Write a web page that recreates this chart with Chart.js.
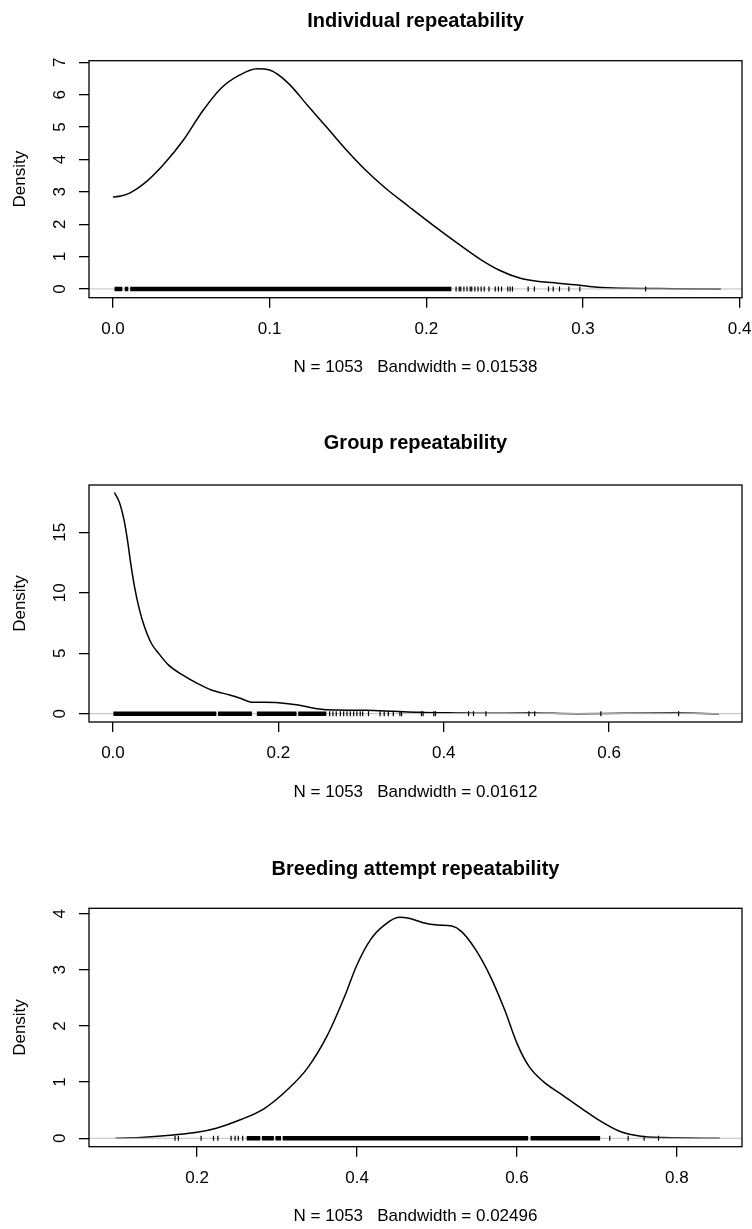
<!DOCTYPE html>
<html>
<head>
<meta charset="utf-8">
<script src="https://cdn.jsdelivr.net/npm/chart.js@4.4.1/dist/chart.umd.min.js"></script>
<style>
  html, body { margin: 0; padding: 0; background: #fff; }
  body { width: 752px; height: 1229px; position: relative; overflow: hidden; }
  .panel { position: absolute; left: 0; width: 752px; }
  canvas { display: block; }
</style>
</head>
<body>
<div class="panel"><canvas id="c1"></canvas></div>
<div class="panel"><canvas id="c2"></canvas></div>
<div class="panel"><canvas id="c3"></canvas></div>
<script>
// density curves
const indivX = [0.000, 0.005, 0.011, 0.020, 0.032, 0.045, 0.057, 0.069, 0.081, 0.092, 0.100, 0.112, 0.124, 0.137, 0.149, 0.161, 0.174, 0.189, 0.204, 0.220, 0.235, 0.247, 0.260, 0.272, 0.284, 0.297, 0.309, 0.327, 0.358, 0.388];
const indivY = [2.84, 2.87, 2.97, 3.26, 3.83, 4.60, 5.48, 6.20, 6.61, 6.80, 6.76, 6.35, 5.68, 4.96, 4.29, 3.68, 3.11, 2.54, 1.98, 1.41, 0.90, 0.57, 0.33, 0.23, 0.18, 0.12, 0.05, 0.02, 0.01, 0.0];

const groupX = [0.0017, 0.0076, 0.0134, 0.0174, 0.0215, 0.026, 0.032, 0.038, 0.0465, 0.055, 0.067, 0.084, 0.102, 0.119, 0.142, 0.154, 0.169, 0.183, 0.200, 0.224, 0.247, 0.270, 0.305, 0.340, 0.369, 0.416, 0.445, 0.503, 0.561, 0.619, 0.677, 0.733];
const groupY = [18.28, 17.5, 16.0, 14.4, 12.4, 10.5, 8.6, 7.2, 5.8, 5.0, 4.03, 3.2, 2.5, 1.96, 1.52, 1.27, 0.94, 0.94, 0.91, 0.72, 0.41, 0.30, 0.28, 0.19, 0.11, 0.055, 0.03, 0.05, 0.0, 0.03, 0.05, 0.0];

const breedX = [0.098, 0.134, 0.170, 0.200, 0.224, 0.254, 0.284, 0.3155, 0.338, 0.362, 0.386, 0.399, 0.4165, 0.4345, 0.4526, 0.4646, 0.4826, 0.5006, 0.5187, 0.5307, 0.5487, 0.5668, 0.5848, 0.600, 0.615, 0.633, 0.657, 0.681, 0.705, 0.729, 0.753, 0.783, 0.8536];
const breedY = [0.0, 0.02, 0.06, 0.107, 0.18, 0.33, 0.53, 0.90, 1.25, 1.81, 2.58, 3.06, 3.53, 3.80, 3.935, 3.92, 3.84, 3.80, 3.78, 3.68, 3.35, 2.88, 2.28, 1.69, 1.28, 1.01, 0.77, 0.53, 0.30, 0.12, 0.04, 0.012, 0.0];

// rug: dense stretches as [from, to], sparse ticks one by one
const indivRugBands = [[0.001, 0.006], [0.0075, 0.0098], [0.011, 0.216]];
const indivRug = [0.219, 0.221, 0.222, 0.224, 0.226, 0.228, 0.229, 0.231, 0.233, 0.235, 0.237, 0.240, 0.244, 0.246, 0.248, 0.252, 0.2535, 0.255, 0.265, 0.269, 0.278, 0.281, 0.285, 0.291, 0.298, 0.340];

const groupRugBands = [[0.0005, 0.125], [0.127, 0.168], [0.174, 0.222], [0.224, 0.258]];
const groupRug = [0.262, 0.266, 0.270, 0.275, 0.279, 0.283, 0.287, 0.291, 0.295, 0.299, 0.302, 0.309, 0.323, 0.328, 0.333, 0.339, 0.347, 0.349, 0.373, 0.375, 0.388, 0.390, 0.430, 0.436, 0.451, 0.503, 0.510, 0.590, 0.684];

const breedRugBands = [[0.262, 0.279], [0.281, 0.296], [0.298, 0.305], [0.307, 0.614], [0.617, 0.704]];
const breedRug = [0.1724, 0.1766, 0.205, 0.2205, 0.226, 0.2425, 0.2475, 0.2515, 0.257, 0.716, 0.739, 0.759, 0.777];

// ticks and labels
const indivXTicks = [0.0, 0.1, 0.2, 0.3, 0.4];
const indivYTicks = [0, 1, 2, 3, 4, 5, 6, 7];
const groupXTicks = [0.0, 0.2, 0.4, 0.6];
const groupYTicks = [0, 5, 10, 15];
const breedXTicks = [0.2, 0.4, 0.6, 0.8];
const breedYTicks = [0, 1, 2, 3, 4];

const titles = ['Individual repeatability', 'Group repeatability', 'Breeding attempt repeatability'];
const subtitles = ['N = 1053   Bandwidth = 0.01538', 'N = 1053   Bandwidth = 0.01612', 'N = 1053   Bandwidth = 0.02496'];

Chart.defaults.font.family = '"Liberation Sans", Arial, Helvetica, sans-serif';
Chart.defaults.color = '#000';

const panels = [
  { id: 'c1', top: 0, height: 400, boxTop: 60.7, boxBottom: 297.7, titleMid: 21, subMid: 367, yPad: 13.8,
    title: titles[0], sub: subtitles[0], xs: indivX, ys: indivY, bands: indivRugBands, rug: indivRug,
    xTicks: indivXTicks, yTicks: indivYTicks, xMin: -0.0153, xMax: 0.4015, yMin: -0.27, yMax: 7.05 },
  { id: 'c2', top: 409, height: 400, boxTop: 485, boxBottom: 722, titleMid: 443, subMid: 792, yPad: 9,
    title: titles[1], sub: subtitles[1], xs: groupX, ys: groupY, bands: groupRugBands, rug: groupRug,
    xTicks: groupXTicks, yTicks: groupYTicks, xMin: -0.029, xMax: 0.7607, yMin: -0.69, yMax: 18.9 },
  { id: 'c3', top: 819, height: 410, boxTop: 908.3, boxBottom: 1146.7, titleMid: 869, subMid: 1216.5, yPad: 13.8,
    title: titles[2], sub: subtitles[2], xs: breedX, ys: breedY, bands: breedRugBands, rug: breedRug,
    xTicks: breedXTicks, yTicks: breedYTicks, xMin: 0.0648, xMax: 0.8814, yMin: -0.15, yMax: 4.096 }
];

// R draws a full box round the plot region
const boxPlugin = {
  id: 'box',
  afterDraw(chart) {
    const { ctx, chartArea: a } = chart;
    ctx.save();
    ctx.strokeStyle = '#000';
    ctx.lineWidth = 1.3;
    ctx.strokeRect(a.left, a.top, a.right - a.left, a.bottom - a.top);
    ctx.restore();
  }
};

function makeChart(p) {
  const canvas = document.getElementById(p.id);
  canvas.width = 752;
  canvas.height = p.height;
  canvas.parentNode.style.top = p.top + 'px';

  const areaTop = p.boxTop - p.top;
  const areaBottom = p.boxBottom - p.top;
  const titleLine = 20 * 1.2;
  const subLine = 17 * 1.2;
  const titlePadTop = p.titleMid - p.top - titleLine / 2;
  const titlePadBottom = areaTop - titlePadTop - titleLine;
  const subPadBottom = p.height - (p.subMid - p.top) - subLine / 2;

  const bandData = [];
  p.bands.forEach(b => {
    bandData.push({ x: b[0], y: 0 }, { x: b[1], y: 0 }, { x: b[1], y: null });
  });

  const tickGrid = { drawOnChartArea: false, drawTicks: true, tickLength: 10, color: '#000', lineWidth: 1.3 };

  return new Chart(canvas, {
    type: 'scatter',
    data: {
      datasets: [
        {
          data: p.xs.map((x, i) => ({ x: x, y: p.ys[i] })),
          showLine: true, borderColor: '#000', borderWidth: 1.5, pointRadius: 0,
          cubicInterpolationMode: 'monotone', order: 3
        },
        {
          // zero line, drawn over the curve like R does
          data: [{ x: p.xMin, y: 0 }, { x: p.xMax, y: 0 }],
          showLine: true, borderColor: '#bebebe', borderWidth: 1, pointRadius: 0, order: 2
        },
        {
          data: bandData,
          showLine: true, spanGaps: false, borderColor: '#000', borderWidth: 4.5,
          borderCapStyle: 'butt', pointRadius: 0, order: 1
        },
        {
          data: p.rug.map(x => ({ x: x, y: 0 })),
          showLine: false, pointStyle: 'line', pointRotation: 90, pointRadius: 2.5,
          pointBorderColor: '#000', pointBorderWidth: 1.2, order: 0
        }
      ]
    },
    options: {
      responsive: false,
      animation: false,
      devicePixelRatio: 1,
      events: [],
      layout: { padding: { left: 0, right: 10, top: 0, bottom: 0 } },
      plugins: {
        legend: { display: false },
        tooltip: { enabled: false },
        title: {
          display: true, text: p.title, fullSize: false, color: '#000',
          font: { size: 20, weight: 'bold', lineHeight: 1.2 },
          padding: { top: titlePadTop, bottom: titlePadBottom }
        }
      },
      scales: {
        x: {
          type: 'linear', position: 'bottom', min: p.xMin, max: p.xMax,
          afterBuildTicks: s => { s.ticks = p.xTicks.map(v => ({ value: v })); },
          afterFit: s => { s.height = p.height - areaBottom; s.paddingLeft = 0; s.paddingRight = 0; },
          grid: tickGrid,
          border: { display: false },
          ticks: {
            autoSkip: false, maxRotation: 0, padding: 11, color: '#000',
            font: { size: 17 }, callback: v => Number(v).toFixed(1)
          },
          title: {
            display: true, text: p.sub, color: '#000', font: { size: 17, lineHeight: 1.2 },
            padding: { top: 0, bottom: subPadBottom }
          }
        },
        y: {
          type: 'linear', position: 'left', min: p.yMin, max: p.yMax,
          afterBuildTicks: s => { s.ticks = p.yTicks.map(v => ({ value: v })); },
          afterFit: s => { s.width = 89; s.paddingTop = 0; s.paddingBottom = 0; },
          grid: tickGrid,
          border: { display: false },
          ticks: {
            autoSkip: false, minRotation: 90, maxRotation: 90, crossAlign: 'center',
            padding: p.yPad, color: '#000', font: { size: 17 },
            callback: v => String(v)
          },
          title: {
            display: true, text: 'Density', color: '#000', font: { size: 17, lineHeight: 1.2 },
            padding: { top: 10.3, bottom: 0 }
          }
        }
      }
    },
    plugins: [boxPlugin]
  });
}

panels.forEach(makeChart);
</script>
</body>
</html>
